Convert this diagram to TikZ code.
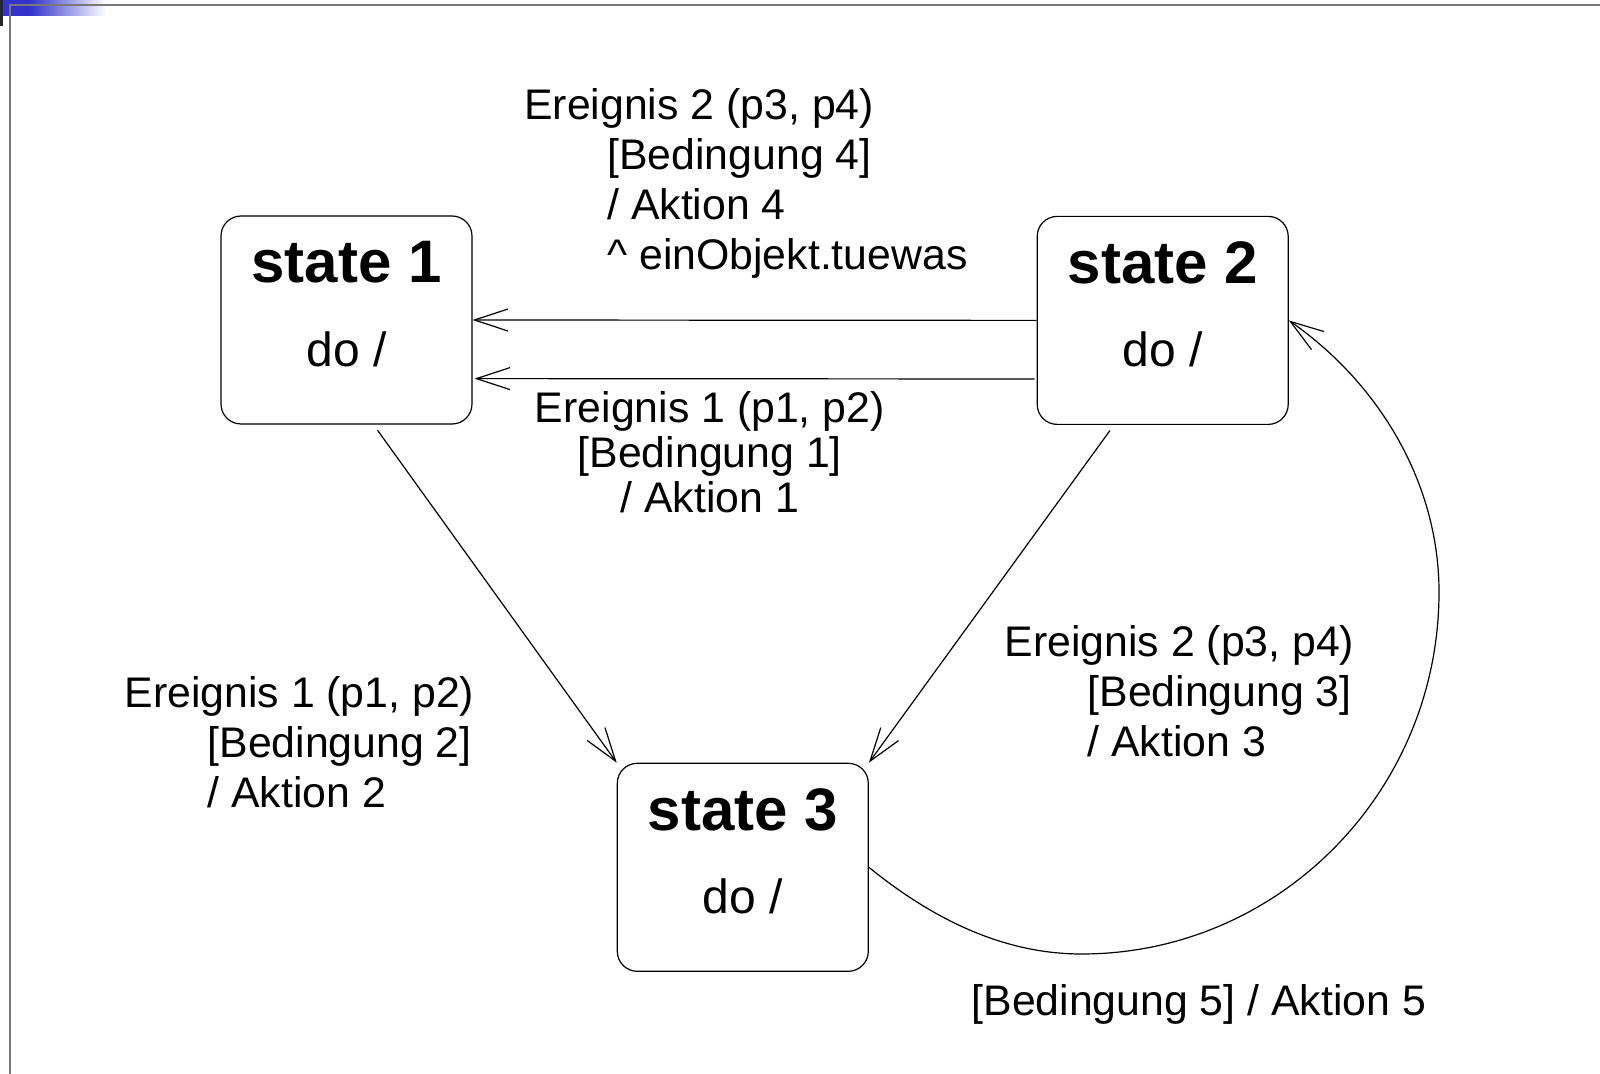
\documentclass[tikz,border=0pt]{standalone}
\usepackage{fontspec}
\setmainfont{Liberation Sans}
\usetikzlibrary{arrows.meta}
\definecolor{deckblue}{RGB}{51,51,204}
\definecolor{framegray}{RGB}{120,120,120}
\begin{document}
\begin{tikzpicture}[x=0.5pt,y=-0.5pt,
  line width=0.6pt,
  statebox/.style={draw=black, rounded corners=10pt, minimum width=125.5pt, minimum height=104pt, inner sep=0pt},
  titletxt/.style={font=\fontsize{30}{34}\selectfont\bfseries, inner sep=0pt, anchor=base},
  dotxt/.style={font=\fontsize{24}{28}\selectfont, inner sep=0pt, anchor=base},
  lbl/.style={font=\fontsize{21.4}{25}\selectfont, inner sep=0pt, anchor=base west},
  arr/.style={-{Straight Barb[length=16.7pt,width=11pt]}, line width=0.6pt}
]
\useasboundingbox (0,0) rectangle (1600,1074);
\fill[white] (0,0) rectangle (1600,1074);
% slide decoration
\fill[deckblue] (0,0) rectangle (30,16);
\shade[left color=deckblue, right color=white] (30,0) rectangle (106,16);
\fill[black!85] (0,0) rectangle (3,26);
\draw[framegray, line width=1.1pt] (10,1074) -- (10,5) -- (1600,5);

% states
\node[statebox] (s1) at (346.5,320) {};
\node[statebox] (s2) at (1162.7,320.4) {};
\node[statebox] (s3) at (742.8,867.3) {};
\node[titletxt] (s1t) at ([yshift=18.5pt]s1.center) {state 1};
\node[dotxt] (s1d) at ([yshift=-23.3pt]s1.center) {do /};
\node[titletxt] (s2t) at ([yshift=18.5pt]s2.center) {state 2};
\node[dotxt] (s2d) at ([yshift=-23.3pt]s2.center) {do /};
\node[titletxt] (s3t) at ([yshift=18.5pt]s3.center) {state 3};
\node[dotxt] (s3d) at ([yshift=-23.3pt]s3.center) {do /};

% transitions
\draw[arr] (s2.west) -- (s1.east);
\draw[arr] ([yshift=-29.3pt,xshift=-1pt]s2.west) -- ([yshift=-29.3pt,xshift=1pt]s1.east);
\draw[arr] ([xshift=15.5pt,yshift=-2.8pt]s1.south) -- (s3.north west);
\draw[arr] ([xshift=-26.4pt,yshift=-2.8pt]s2.south) -- (s3.north east);
\coordinate (c5b) at (1081.6,954);
\coordinate (c5r) at (1439,592);
\draw[arr] (s3.east) .. controls (930.7,917.5) and (1001.6,954) .. (c5b)
  .. controls (1278.6,954) and (1439,792) .. (c5r)
  .. controls (1439,484) and (1380,384) .. (s2.east);

% labels
\node[lbl] (l4) at (523.7,119.3) {\vtop{\baselineskip=25pt
  \hbox{Ereignis 2 (p3, p4)}
  \hbox{\kern41.5pt[Bedingung 4]}
  \hbox{\kern41.5pt/ Aktion 4}
  \hbox{\kern41.5pt\textasciicircum{} einObjekt.tuewas}}};
\node[font=\fontsize{21.4}{22.5}\selectfont, inner sep=0pt, anchor=base] (l1) at (709.8,422.7) {\vtop{\baselineskip=22.5pt
  \hbox to 200pt{\hss Ereignis 1 (p1, p2)\hss}
  \hbox to 200pt{\hss [Bedingung 1]\hss}
  \hbox to 200pt{\hss / Aktion 1\hss}}};
\node[lbl] (l2) at (124,707) {\vtop{\baselineskip=25pt
  \hbox{Ereignis 1 (p1, p2)}
  \hbox{\kern41.5pt[Bedingung 2]}
  \hbox{\kern41.5pt/ Aktion 2}}};
\node[lbl] (l3) at (1004,656) {\vtop{\baselineskip=25pt
  \hbox{Ereignis 2 (p3, p4)}
  \hbox{\kern41.5pt[Bedingung 3]}
  \hbox{\kern41.5pt/ Aktion 3}}};
\node[lbl] (l5) at (971,1015) {[Bedingung 5] / Aktion 5};
\end{tikzpicture}
\end{document}
